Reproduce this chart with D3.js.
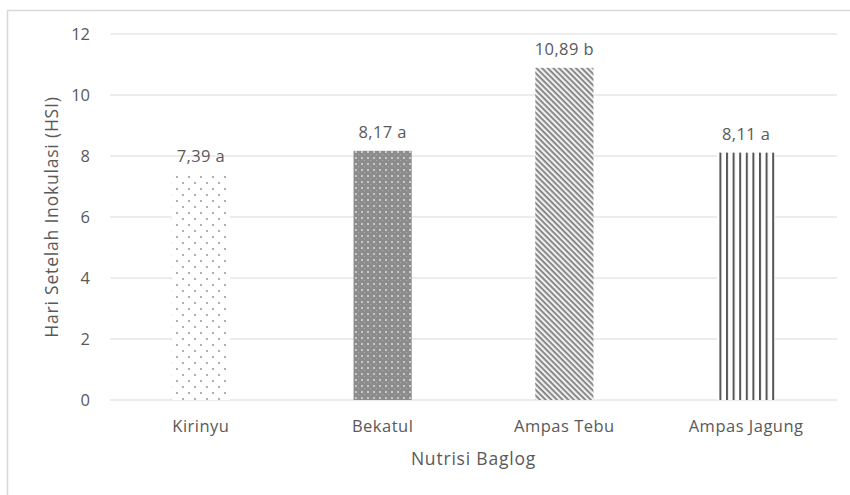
<!DOCTYPE html>
<html>
<head>
<meta charset="utf-8">
<script src="https://cdn.jsdelivr.net/npm/d3@7"></script>
<style>
  html, body { margin: 0; padding: 0; background: #fff; }
  svg { display: block; }
  text { font-family: "Open Sans", "Liberation Sans", sans-serif; fill: #595959; }
</style>
</head>
<body>
<svg id="chart" width="850" height="495"></svg>
<script>
// Nutrient treatments and mean days after inoculation
const categories = ["Kirinyu", "Bekatul", "Ampas Tebu", "Ampas Jagung"];
const values = [7.39, 8.17, 10.89, 8.11];
const notations = ["a", "a", "b", "a"];
const yTicks = [0, 2, 4, 6, 8, 10, 12];
const patternIds = ["dots", "grid", "diag", "vert"];

const svg = d3.select("#chart");
const margin = { top: 34, right: 13, bottom: 95, left: 110 };
const W = 850, H = 495;
const FONT = '"Open Sans", "Liberation Sans", sans-serif';

// Chart frame
svg.append("line").attr("x1", 7).attr("x2", 850).attr("y1", 10.5).attr("y2", 10.5)
  .attr("stroke", "#d9d9d9").attr("stroke-width", 1.5);
svg.append("line").attr("x1", 7.5).attr("x2", 7.5).attr("y1", 10).attr("y2", 495)
  .attr("stroke", "#d9d9d9").attr("stroke-width", 1.5);

const x = d3.scaleBand().domain(categories)
  .range([margin.left, W - margin.right]).paddingInner(0.68).paddingOuter(0.34);
const y = d3.scaleLinear().domain([0, 12]).range([H - margin.bottom, margin.top]);

// Fill patterns
const defs = svg.append("defs");
const pDots = defs.append("pattern").attr("id", "dots").attr("patternUnits", "userSpaceOnUse")
  .attr("width", 12).attr("height", 12);
pDots.append("rect").attr("width", 12).attr("height", 12).attr("fill", "#fff");
pDots.append("circle").attr("cx", 3).attr("cy", 3).attr("r", 0.9).attr("fill", "#8a8a8a");
pDots.append("circle").attr("cx", 9).attr("cy", 9).attr("r", 0.9).attr("fill", "#8a8a8a");

const pGrid = defs.append("pattern").attr("id", "grid").attr("patternUnits", "userSpaceOnUse")
  .attr("width", 6).attr("height", 6);
pGrid.append("rect").attr("width", 6).attr("height", 6).attr("fill", "#8c8c8c");
pGrid.append("rect").attr("x", 1).attr("y", 1).attr("width", 2).attr("height", 2).attr("fill", "#c8c8c8");
pGrid.append("rect").attr("x", 4).attr("y", 4).attr("width", 1).attr("height", 1).attr("fill", "#b0b0b0");

const pDiag = defs.append("pattern").attr("id", "diag").attr("patternUnits", "userSpaceOnUse")
  .attr("width", 4).attr("height", 4).attr("patternTransform", "rotate(45)");
pDiag.append("rect").attr("width", 4).attr("height", 4).attr("fill", "#f0f0f0");
pDiag.append("rect").attr("width", 4).attr("height", 1.7).attr("fill", "#7a7a7a");

const pVert = defs.append("pattern").attr("id", "vert").attr("patternUnits", "userSpaceOnUse")
  .attr("width", 6.6).attr("height", 10);
pVert.append("rect").attr("width", 6.6).attr("height", 10).attr("fill", "#fff");
pVert.append("rect").attr("x", 0).attr("width", 2).attr("height", 10).attr("fill", "#555");

// Gridlines
svg.append("g").selectAll("line").data(yTicks).join("line")
  .attr("x1", margin.left).attr("x2", W - margin.right)
  .attr("y1", d => y(d)).attr("y2", d => y(d))
  .attr("stroke", "#d9d9d9").attr("stroke-width", 1.2);

// Y axis labels
const yAxis = d3.axisLeft(y).tickValues(yTicks).tickSize(0).tickPadding(0);
const gy = svg.append("g").attr("transform", `translate(${margin.left - 20},0)`).call(yAxis);
gy.select(".domain").remove();
gy.selectAll("text").attr("font-size", 16.5).attr("text-anchor", "end")
  .style("font-family", FONT).attr("fill", "#595959");

// Bars
svg.append("g").selectAll("rect").data(values).join("rect")
  .attr("x", (d, i) => x(categories[i]))
  .attr("width", x.bandwidth())
  .attr("y", d => y(d))
  .attr("height", d => y(0) - y(d))
  .attr("fill", (d, i) => `url(#${patternIds[i]})`);

// Value labels
svg.append("g").selectAll("text").data(values).join("text")
  .attr("x", (d, i) => x(categories[i]) + x.bandwidth() / 2)
  .attr("y", d => y(d) - 13)
  .attr("text-anchor", "middle").attr("font-size", 16.5).attr("letter-spacing", 0.4)
  .text((d, i) => d.toFixed(2).replace(".", ",") + " " + notations[i]);

// X axis labels
const xAxis = d3.axisBottom(x).tickSize(0).tickPadding(0);
const gx = svg.append("g").attr("transform", `translate(0,${y(0) + 32})`).call(xAxis);
gx.select(".domain").remove();
gx.selectAll("text").attr("font-size", 16.5).attr("dy", 0).attr("letter-spacing", 0.5)
  .style("font-family", FONT).attr("fill", "#595959");

// Axis titles
svg.append("text").attr("x", (margin.left + W - margin.right) / 2).attr("y", 465)
  .attr("text-anchor", "middle").attr("font-size", 17.5).attr("letter-spacing", 0.8)
  .text("Nutrisi Baglog");
svg.append("text").attr("transform", `translate(58,${(y(0) + y(12)) / 2}) rotate(-90)`)
  .attr("text-anchor", "middle").attr("font-size", 17.5).attr("letter-spacing", 0.8)
  .text("Hari Setelah Inokulasi (HSI)");
</script>
</body>
</html>
